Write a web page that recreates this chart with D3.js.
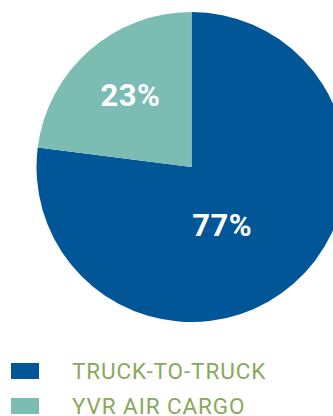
<!DOCTYPE html>
<html>
<head>
<meta charset="utf-8">
<script src="https://cdn.jsdelivr.net/npm/d3@7"></script>
<style>
  html, body { margin: 0; padding: 0; background: #ffffff; }
  svg { display: block; }
</style>
</head>
<body>
<svg id="chart" width="333" height="416"></svg>
<script>
// Share of cargo volume by handling mode
const categories = ["TRUCK-TO-TRUCK", "YVR AIR CARGO"];
const shares = [77, 23];
const colors = ["#005696", "#7bbcb3"];

const svg = d3.select("#chart");
const cx = 191.5, cy = 167, radius = 155;

const pie = d3.pie().sort(null).value(d => d.value);
const arcs = pie(categories.map((c, i) => ({ name: c, value: shares[i], color: colors[i] })));

const arc = d3.arc().innerRadius(0).outerRadius(radius);

const g = svg.append("g").attr("transform", `translate(${cx},${cy})`);

g.selectAll("path.slice")
  .data(arcs)
  .join("path")
  .attr("class", "slice")
  .attr("d", arc)
  .attr("fill", d => d.data.color);

// label placement: radial distance (fraction of radius) and angle shift per slice
const labelLayout = [
  { r: 0.42, angleShift: 0.23 },
  { r: 0.61, angleShift: 0.02 }
];

g.selectAll("text.pct")
  .data(arcs)
  .join("text")
  .attr("class", "pct")
  .attr("transform", (d, i) => {
    const a = (d.startAngle + d.endAngle) / 2 + labelLayout[i].angleShift;
    const r = radius * labelLayout[i].r;
    return `translate(${r * Math.sin(a)},${-r * Math.cos(a)})`;
  })
  .attr("text-anchor", "middle")
  .attr("dy", "0.36em")
  .attr("fill", "#ffffff")
  .attr("font-family", "Roboto, 'Noto Sans', sans-serif")
  .attr("font-weight", 700)
  .attr("font-size", 31)
  .attr("letter-spacing", 0.5)
  .text(d => d.data.value + "%");

// legend
const legend = svg.append("g").attr("transform", "translate(11,363)");
const rows = legend.selectAll("g.row")
  .data(categories)
  .join("g")
  .attr("class", "row")
  .attr("transform", (d, i) => `translate(0,${i * 35})`);

rows.append("rect")
  .attr("width", 28)
  .attr("height", 16)
  .attr("fill", (d, i) => colors[i]);

rows.append("text")
  .attr("x", 61)
  .attr("y", 16)
  .attr("fill", "#8aa85c")
  .attr("font-family", "Roboto, 'Noto Sans', sans-serif")
  .attr("font-weight", 400)
  .attr("font-size", 22.5)
  .attr("letter-spacing", 0.9)
  .text(d => d);
</script>
</body>
</html>
